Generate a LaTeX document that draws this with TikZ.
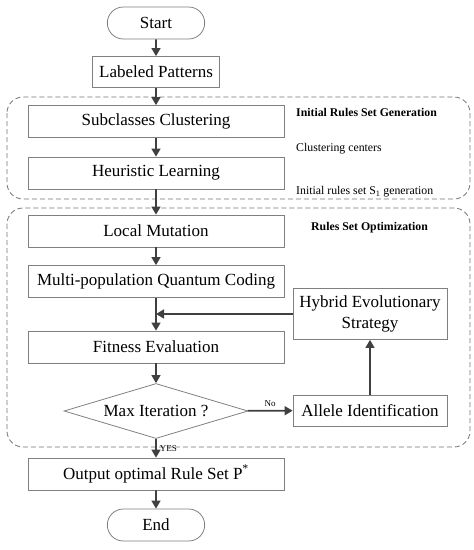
\documentclass[tikz,border=0pt]{standalone}
\usepackage{fontspec}
\setmainfont{Liberation Serif}
\usetikzlibrary{positioning, arrows.meta, shapes.geometric, shapes.misc}

\begin{document}
\begin{tikzpicture}[
    x=1pt, y=-1pt, % pixel-like units, y downwards
    every node/.style={font=\fontsize{17}{21}\selectfont},
    box/.style={draw=gray, line width=0.8pt, minimum width=256pt, minimum height=32pt, inner sep=0pt},
    sidebox/.style={draw=gray, line width=0.8pt, minimum width=154pt, inner sep=2pt, align=center},
    term/.style={draw=gray, line width=0.8pt, rounded rectangle, minimum width=104pt, minimum height=32pt},
    group/.style={draw=black!55, dash pattern=on 5pt off 3pt, line width=0.8pt, rounded corners=16pt},
    note/.style={font=\fontsize{11.8}{14}\selectfont, anchor=west, inner sep=0pt},
    tag/.style={font=\fontsize{9}{11}\selectfont, inner sep=3pt},
    flow/.style={draw=black!75, line width=1.6pt, -{Triangle[length=8pt, width=9pt]}}
]
    \useasboundingbox (0,0) rectangle (474,550);

    % dashed stage frames
    \draw[group] (7,97) rectangle (470,199);
    \draw[group] (7,208) rectangle (470,447);

    % main column
    \node[term] (start) at (156,23) {Start};
    \node[box, minimum width=127pt, minimum height=31pt] (labeled) at (156,72) {Labeled Patterns};
    \node[box] (cluster) at (156,121.5) {Subclasses Clustering};
    \node[box] (heur) at (156,173) {Heuristic Learning};
    \node[box] (mutation) at (156,231) {Local Mutation};
    \node[box] (coding) at (156,281.5) {Multi-population Quantum Coding};
    \node[box] (fitness) at (156,347) {Fitness Evaluation};
    \node[draw=gray, line width=0.8pt, diamond, aspect=3.35, inner sep=0pt,
          minimum width=184pt, minimum height=55pt] (maxiter) at (156,411) {Max Iteration ?};
    \node[box] (output) at (156,474) {Output optimal Rule Set P\textsuperscript{*}};
    \node[term] (end) at (156,525) {End};

    % side column
    \node[sidebox, minimum height=51pt] (hybrid) at (370,314) {Hybrid Evolutionary\\Strategy};
    \node[sidebox, minimum height=31pt] (allele) at (370,410.5) {Allele Identification};

    % stage notes
    \node[note, font=\fontsize{11.8}{14}\selectfont\bfseries] (initTitle) at (296,112) {Initial Rules Set Generation};
    \node[note] (centersNote) at (296,149) {Clustering centers};
    \node[note] (seedNote) at (296,192) {Initial rules set S\textsubscript{1} generation};
    \node[note, font=\fontsize{11.8}{14}\selectfont\bfseries] (optTitle) at (311,228) {Rules Set Optimization};

    % connectors
    \coordinate (merge) at (coding.south |- hybrid.west);
    \draw[flow] (start) -- (labeled);
    \draw[flow] (labeled) -- (cluster);
    \draw[flow] (cluster) -- (heur);
    \draw[flow] (heur) -- (mutation);
    \draw[flow] (mutation) -- (coding);
    \draw[flow] (coding) -- (fitness);
    \draw[flow] (hybrid.west) -- (merge);
    \draw[flow] (fitness) -- (maxiter);
    \draw[flow] (maxiter) -- node[tag, above] {No} (allele);
    \draw[flow] (allele) -- (hybrid);
    \draw[flow] (maxiter) -- node[tag, right] {YES} (output);
    \draw[flow] (output) -- (end);
\end{tikzpicture}
\end{document}
